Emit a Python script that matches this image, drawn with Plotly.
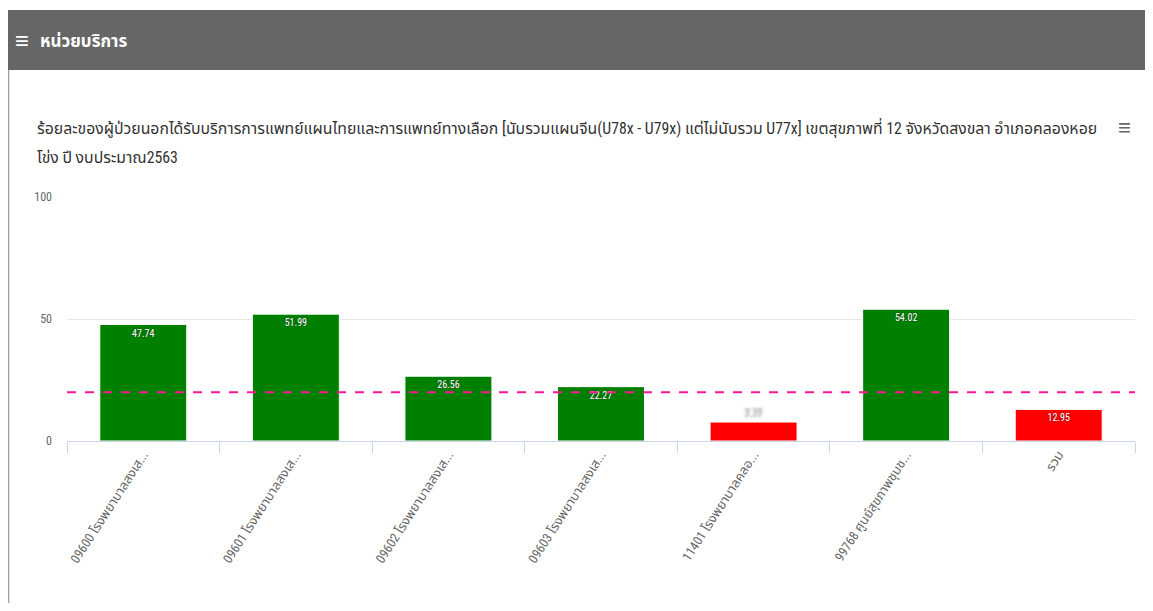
import plotly.graph_objects as go

categories = [
    "09600 โรงพยาบาลสงเส...",
    "09601 โรงพยาบาลสงเส...",
    "09602 โรงพยาบาลสงเส...",
    "09603 โรงพยาบาลสงเส...",
    "11401 โรงพยาบาลคลอ...",
    "99768 ศูนย์สุขภาพชุมช...",
    "รวม",
]
values = [47.74, 51.99, 26.56, 22.27, 7.77, 54.02, 12.95]
bar_colors = ["#008000", "#008000", "#008000", "#008000", "#ff0000", "#008000", "#ff0000"]
text_positions = ["inside", "inside", "inside", "inside", "outside", "inside", "inside"]
target = 20

header_icon = "≡"
header_text = "หน่วยบริการ"
title_line1 = ("ร้อยละของผู้ป่วยนอกได้รับบริการการแพทย์แผนไทยและการแพทย์ทางเลือก [นับรวมแผนจีน(U78x - U79x) "
               "แต่ไม่นับรวม U77x] เขตสุขภาพที่ 12 จังหวัดสงขลา อำเภอคลองหอย")
title_line2 = "โข่ง ปี งบประมาณ2563"

FONT = "Liberation Sans Narrow, Roboto Condensed, Arial Narrow, Noto Sans Thai, sans-serif"

# page is offset by the default 8px body margin
OFF = 8
W, H = 1137, 595
plot_left, plot_right, plot_top, plot_bottom = 67, 1135, 197, 441  # page px
L = plot_left - OFF
R = W - (plot_right - OFF)
T = plot_top - OFF
B = H - (plot_bottom - OFF)
PW = W - L - R
PH = H - T - B


def px(x):
    return (x - OFF - L) / PW


def py(y):
    return (H - B - (y - OFF)) / PH


fig = go.Figure()
fig.add_trace(go.Bar(
    x=categories,
    y=values,
    marker=dict(color=bar_colors, line=dict(color="white", width=1)),
    texttemplate="%{y:.2f}",
    textposition=text_positions,
    insidetextanchor="end",
    textfont=dict(family=FONT, size=10, color="white", shadow="0px 0px 2px #333"),
    outsidetextfont=dict(family=FONT, size=10, color="#dcdcdc", shadow="0px 0px 3px #333"),
    cliponaxis=False,
    hoverinfo="x+y",
))

shapes = [
    dict(type="rect", xref="paper", yref="paper", x0=px(7), x1=px(1160), y0=py(70), y1=py(10),
         fillcolor="#666666", line=dict(width=0), layer="below"),
    dict(type="line", xref="paper", yref="paper", x0=px(8.5), x1=px(8.5), y0=py(70), y1=py(620),
         line=dict(color="#a0a0a0", width=1.5)),
    dict(type="line", xref="paper", yref="y", x0=0, x1=1, y0=target, y1=target,
         line=dict(color="#ff1493", width=2, dash="dash"), layer="above"),
]

annotations = [
    dict(text=f"<b>{header_icon}</b>", xref="paper", yref="paper", x=px(13), y=py(41),
         xanchor="left", yanchor="middle", showarrow=False,
         font=dict(family=FONT, size=24, color="white")),
    dict(text=f"<b>{header_text}</b>", xref="paper", yref="paper", x=px(38), y=py(41),
         xanchor="left", yanchor="middle", showarrow=False,
         font=dict(family=FONT, size=17, color="white")),
    dict(text=title_line1, xref="paper", yref="paper", x=px(35), y=py(128),
         xanchor="left", yanchor="middle", align="left", showarrow=False,
         font=dict(family=FONT, size=15.8, color="#333333")),
    dict(text=title_line2, xref="paper", yref="paper", x=px(35), y=py(157),
         xanchor="left", yanchor="middle", align="left", showarrow=False,
         font=dict(family=FONT, size=15.8, color="#333333")),
    dict(text="<b>≡</b>", xref="paper", yref="paper", x=px(1124), y=py(128),
         xanchor="center", yanchor="middle", showarrow=False,
         font=dict(family=FONT, size=22, color="#666666")),
]

fig.update_layout(
    width=W, height=H,
    margin=dict(l=L, r=R, t=T, b=B),
    paper_bgcolor="white", plot_bgcolor="white",
    showlegend=False,
    bargap=0.43,
    font=dict(family=FONT, size=11, color="#666666"),
    shapes=shapes,
    annotations=annotations,
    xaxis=dict(
        type="category",
        tickangle=-57,
        tickson="boundaries",
        ticks="outside", ticklen=11, tickcolor="#ccd6eb", tickwidth=1,
        showline=True, linecolor="#ccd6eb", linewidth=1,
        showgrid=False,
        tickfont=dict(family=FONT, size=13, color="#666666"),
    ),
    yaxis=dict(
        range=[0, 100],
        tickvals=[0, 50, 100],
        showgrid=True, gridcolor="#e6e6e6", gridwidth=1,
        zeroline=False, showline=False,
        ticks="", ticklabelstandoff=14,
        tickfont=dict(family=FONT, size=12, color="#666666"),
    ),
)

fig.write_html("out.html")
